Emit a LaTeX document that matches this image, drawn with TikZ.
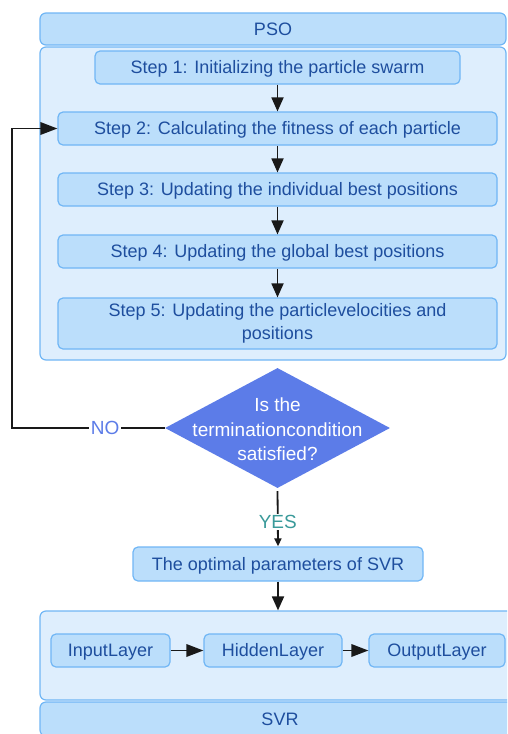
\documentclass[tikz,border=0pt]{standalone}
\usepackage{fontspec}
\setmainfont{Liberation Sans}
\usetikzlibrary{shapes.geometric,arrows.meta}

\definecolor{boxfill}{RGB}{187,222,251}
\definecolor{boxedge}{RGB}{112,182,245}
\definecolor{panelfill}{RGB}{222,238,253}
\definecolor{txtblue}{RGB}{30,78,158}
\definecolor{diafill}{RGB}{92,124,232}
\definecolor{notxt}{RGB}{92,124,232}
\definecolor{yestxt}{RGB}{58,154,154}
\definecolor{linec}{RGB}{25,25,25}

\tikzset{
  stepbox/.style={draw=boxedge, fill=boxfill, rounded corners=5pt, line width=1.2pt,
    text=txtblue, font=\fontsize{18}{23}\selectfont, align=center, inner sep=0pt},
  oneline/.style={stepbox, text height=16.3pt, text depth=3.8pt},
  panel/.style={draw=boxedge, fill=panelfill, rounded corners=6pt, line width=1.2pt, inner sep=0pt},
  conn/.style={draw=linec, line width=1.8pt, -{Triangle[length=14pt,width=12pt]}},
  wideconn/.style={draw=linec, line width=1.8pt, -{Triangle[length=17pt,width=12.5pt]}},
  lab/.style={fill=white, inner sep=1.5pt, font=\fontsize{19}{21}\selectfont}
}

\begin{document}
\begin{tikzpicture}[x=1pt,y=-1pt]
\useasboundingbox (0,0) rectangle (507,734);
\clip (0,0) rectangle (507,734);

% PSO container
\node[panel, minimum width=466pt, minimum height=313pt] (psobody) at (273,203.5) {};
\node[oneline, minimum width=466pt, minimum height=32pt, rounded corners=6pt] (psohead) at (273,29) {PSO};

% PSO steps
\node[oneline, minimum width=365pt, minimum height=33pt] (s1) at (277.5,67.5) {Step 1: Initializing the particle swarm};
\node[oneline, minimum width=439pt, minimum height=33pt] (s2) at (277.5,128.5) {Step 2: Calculating the fitness of each particle};
\node[oneline, minimum width=439pt, minimum height=33pt] (s3) at (277.5,189.5) {Step 3: Updating the individual best positions};
\node[oneline, minimum width=439pt, minimum height=33pt] (s4) at (277.5,251.5) {Step 4: Updating the global best positions};
\node[stepbox, minimum width=439pt, minimum height=51pt] (s5) at (277.5,323.5) {Step 5: Updating the particlevelocities and\\positions};

% decision
\node[diamond, fill=diafill, minimum width=225pt, minimum height=120pt, inner sep=0pt] (dia) at (277.5,428) {};
\node[text=white, align=center, font=\fontsize{19}{24.5}\selectfont] (diatext) at ([yshift=-1.5pt]dia.center) {Is the\\terminationcondition\\satisfied?};

% result of the optimisation
\node[oneline, minimum width=290pt, minimum height=34pt] (opt) at (278,564) {The optimal parameters of SVR};

% SVR container
\node[panel, minimum width=480pt, minimum height=89pt] (svrbody) at (280,655.5) {};
\node[oneline, minimum width=480pt, minimum height=34pt, rounded corners=6pt] (svrhead) at (280,719) {SVR};
\node[oneline, minimum width=119pt, minimum height=33pt] (inl) at (110.5,650.5) {InputLayer};
\node[oneline, minimum width=138pt, minimum height=33pt] (hid) at (273,650.5) {HiddenLayer};
\node[oneline, minimum width=136pt, minimum height=33pt] (outl) at (437,650.5) {OutputLayer};

% connectors
\draw[conn] (s1) -- (s2);
\draw[conn] (s2) -- (s3);
\draw[conn] (s3) -- (s4);
\draw[conn] (s4) -- (s5);

\coordinate (loopturn) at (12,428);
\draw[wideconn] (dia.west) -- node[lab, text=notxt, pos=0.39] {NO} (loopturn) |- (s2.west);

\draw[draw=linec, line width=1.8pt, -{Triangle[length=8pt,width=7pt]}, shorten <=3pt]
  (dia.south) -- node[lab, text=yestxt, pos=0.58] {YES} (opt.north);

\draw[conn] (opt) -- (svrbody.north -| opt);
\draw[wideconn] (inl) -- (hid);
\draw[wideconn] (hid) -- (outl);
\end{tikzpicture}
\end{document}
